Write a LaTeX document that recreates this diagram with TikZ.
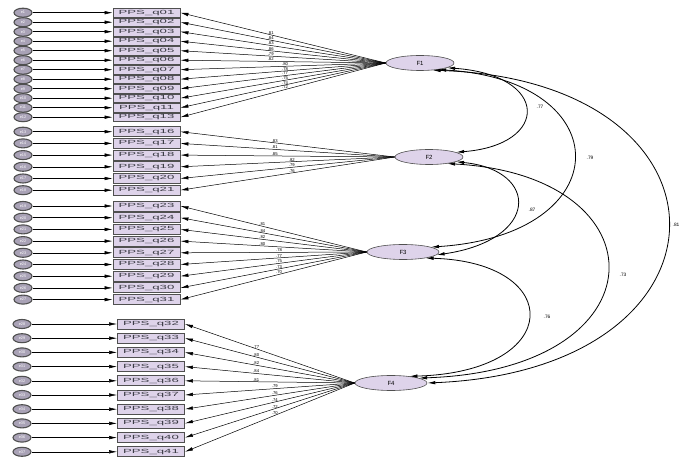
\documentclass[tikz,border=0pt]{standalone}
\usepackage{fontspec}
\setmainfont{Liberation Sans}
\usetikzlibrary{arrows.meta,shapes.geometric}
\definecolor{lav}{HTML}{DED3EA}
\definecolor{edgec}{HTML}{505050}
\definecolor{errfill}{HTML}{A9A2B6}
\definecolor{boxtext}{HTML}{3C3C46}
\newcommand{\boxlab}[1]{\scalebox{2.2}[1]{\fontsize{6}{6}\selectfont PPS\_q#1}}
\begin{document}
\begin{tikzpicture}[x=1pt,y=-1pt,
  obs/.style={draw=edgec,line width=0.8pt,fill=lav,text=boxtext,minimum width=67pt,minimum height=#1,inner sep=0pt},
  err/.style={ellipse,draw=edgec,line width=1.1pt,fill=errfill,minimum width=18pt,minimum height=9pt,inner sep=0pt,text=white,font=\fontsize{3.8}{3.8}\selectfont},
  lat/.style={ellipse,draw=edgec,line width=0.6pt,fill=lav,minimum width=#1,minimum height=15pt,inner sep=0pt,font=\fontsize{6}{6}\selectfont},
  arr/.style={-{Latex[length=8pt,width=3.5pt]},line width=0.5pt},
  cov/.style={{Latex[length=8pt,width=3.5pt]}-{Latex[length=8pt,width=3.5pt]},line width=0.8pt},
  ld/.style={font=\fontsize{4.2}{4.2}\selectfont,inner sep=0.4pt,above},
  cl/.style={font=\fontsize{4.8}{4.8}\selectfont,inner sep=0.5pt}
]
\useasboundingbox (0,0) rectangle (683,462);

% latent factors
\node[lat=68pt] (F1) at (420,63) {F1};
\node[lat=68pt] (F2) at (429,157) {F2};
\node[lat=72pt] (F3) at (403,252) {F3};
\node[lat=72pt] (F4) at (391,383) {F4};

% group 1
\foreach \lab/\val [count=\i] in {01/.81,02/.84,03/.83,04/.86,05/.79,06/.82,07/.80,08/.78,09/.77,10/.75,11/.74,13/.72}{
  \pgfmathsetmacro\yy{12.7+9.5*(\i-1)}
  \pgfmathsetmacro\pp{\i<7 ? 0.56 : 0.49}
  \node[obs=8.5pt] (b1-\i) at (146.5,\yy) {\boxlab{\lab}};
  \node[err] (e1-\i) at (23,\yy) {e\i};
  \draw[arr] (e1-\i) -- (b1-\i);
  \draw[arr] (F1.west) -- (b1-\i.east) node[ld,pos=\pp] {\val};
}
% group 2
\foreach \lab/\val [count=\i] in {16/.83,17/.81,18/.85,19/.82,20/.79,21/.76}{
  \pgfmathsetmacro\yy{131.7+11.7*(\i-1)}
  \pgfmathsetmacro\pp{\i<4 ? 0.56 : 0.48}
  \pgfmathtruncatemacro\en{\i+12}
  \node[obs=10pt] (b2-\i) at (146.5,\yy) {\boxlab{\lab}};
  \node[err] (e2-\i) at (23,\yy) {e\en};
  \draw[arr] (e2-\i) -- (b2-\i);
  \draw[arr] (F2.west) -- (b2-\i.east) node[ld,pos=\pp] {\val};
}
% group 3
\foreach \lab/\val [count=\i] in {23/.81,24/.84,25/.82,26/.80,27/.78,28/.77,29/.75,30/.73,31/.70}{
  \pgfmathsetmacro\yy{206+11.7*(\i-1)}
  \pgfmathsetmacro\pp{\i<5 ? 0.56 : 0.47}
  \pgfmathtruncatemacro\en{\i+18}
  \node[obs=10pt] (b3-\i) at (146.5,\yy) {\boxlab{\lab}};
  \node[err] (e3-\i) at (23,\yy) {e\en};
  \draw[arr] (e3-\i) -- (b3-\i);
  \draw[arr] (F3.west) -- (b3-\i.east) node[ld,pos=\pp] {\val};
}
% group 4
\foreach \lab/\val [count=\i] in {32/.77,33/.80,34/.82,35/.84,36/.81,37/.79,38/.76,39/.74,40/.72,41/.70}{
  \pgfmathsetmacro\yy{324+14.2*(\i-1)}
  \pgfmathsetmacro\pp{\i<6 ? 0.58 : 0.47}
  \pgfmathtruncatemacro\en{\i+27}
  \node[obs=10pt] (b4-\i) at (151,\yy) {\boxlab{\lab}};
  \node[err] (e4-\i) at (22,\yy) {e\en};
  \draw[arr] (e4-\i) -- (b4-\i);
  \draw[arr] (F4.west) -- (b4-\i.east) node[ld,pos=\pp] {\val};
}

% covariances
\draw[cov] (F1.-10) .. controls (550,75) and (550,145) .. (F2.10);
\draw[cov] (F1.-20) .. controls (620,80) and (620,235) .. (F3.10);
\draw[cov] (F1.-30) .. controls (747,80) and (747,370) .. (F4.0);
\draw[cov] (F2.-10) .. controls (540,170) and (540,240) .. (F3.-5);
\draw[cov] (F2.-20) .. controls (665,175) and (665,370) .. (F4.10);
\draw[cov] (F3.-15) .. controls (565,262) and (565,372) .. (F4.20);

\node[cl] (c12) at (540,107) {.77};
\node[cl] (c13) at (590,158) {.79};
\node[cl] (c14) at (676,225) {.81};
\node[cl] (c23) at (532,210) {.87};
\node[cl] (c24) at (623,275) {.73};
\node[cl] (c34) at (547,317) {.76};
\end{tikzpicture}
\end{document}
